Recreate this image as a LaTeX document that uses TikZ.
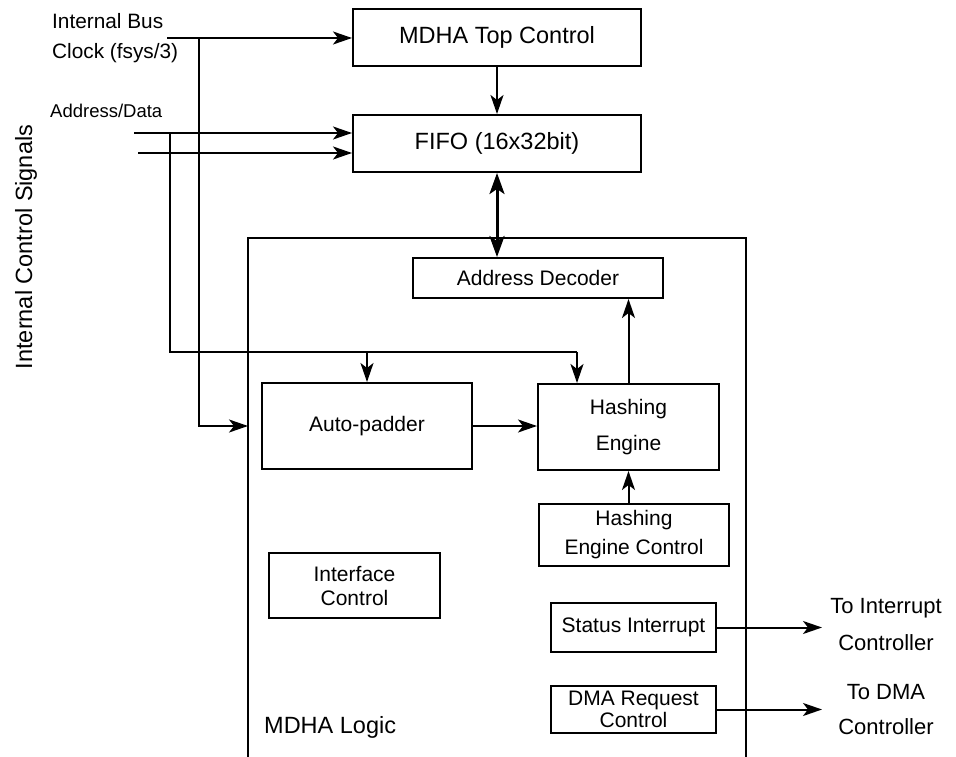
\documentclass[tikz,border=0pt]{standalone}
\usepackage{fontspec}
\setmainfont{Liberation Sans}
\usetikzlibrary{arrows.meta}
\begin{document}
\begin{tikzpicture}[x=1pt,y=-1pt,
  box/.style={draw, line width=2pt, inner sep=0pt, align=center},
  big/.style={font=\fontsize{23.5}{28}\selectfont},
  mid/.style={font=\fontsize{21}{24}\selectfont},
  lbl/.style={inner sep=0pt},
  wire/.style={line width=2pt},
  arr/.style={wire, -{Stealth[length=19pt,width=13pt,inset=5pt]}},
  darr/.style={line width=3pt, {Stealth[length=21pt,width=15pt,inset=5pt]}-{Stealth[length=21pt,width=15pt,inset=5pt]}}]
\useasboundingbox (0,0) rectangle (956,757);

% boxes
\node[box,big,minimum width=288,minimum height=57] (top) at (497,37.5) {MDHA Top Control};
\node[box,big,minimum width=288,minimum height=57] (fifo) at (497,143.5) {FIFO (16x32bit)};
\node[box,mid,minimum width=250,minimum height=40] (dec) at (538,278) {Address Decoder};
\node[box,mid,minimum width=210,minimum height=86] (pad) at (367,426) {Auto-padder};
\node[box,minimum width=181,minimum height=86,font=\fontsize{21}{36}\selectfont] (heng) at (628.5,427) {Hashing\\Engine};
\node[box,minimum width=190,minimum height=62,font=\fontsize{21}{29}\selectfont] (hec) at (634,535) {Hashing\\Engine Control};
\node[box,minimum width=171,minimum height=65,font=\fontsize{21}{24}\selectfont] (ifc) at (354.5,585.5) {Interface\\Control};
\node[box,mid,minimum width=165,minimum height=49] (stat) at (633.5,627.5) {Status Interrupt};
\node[box,minimum width=165,minimum height=47,font=\fontsize{21}{22}\selectfont] (dma) at (633.5,709.5) {DMA Request\\Control};

% MDHA logic block (open at the bottom)
\coordinate (lbl1) at (248,757);
\coordinate (ltl) at (248,238);
\coordinate (ltr) at (746,238);
\coordinate (lbr) at (746,757);
\draw[wire] (lbl1) -- (ltl) -- (ltr) -- (lbr);
\node[lbl,big,anchor=base west] (logic) at (264,733) {MDHA Logic};

% labels
\node[lbl,anchor=base west,font=\fontsize{20.8}{24}\selectfont] (ib1) at (52,29) {Internal Bus};
\node[lbl,anchor=base west,font=\fontsize{20.8}{24}\selectfont] (ib2) at (52,59) {Clock (fsys/3)};
\node[lbl,anchor=base west,font=\fontsize{18.5}{22}\selectfont] (ad) at (50,118) {Address/Data};
\node[lbl,big,anchor=base,rotate=90] (ics) at (32,247) {Internal Control Signals};
\node[lbl,font=\fontsize{22}{26}\selectfont] (ti1) at (886,608) {To Interrupt};
\node[lbl,font=\fontsize{22}{26}\selectfont] (ti2) at (886,643) {Controller};
\node[lbl,font=\fontsize{22}{26}\selectfont] (td1) at (886,692) {To DMA};
\node[lbl,font=\fontsize{22}{26}\selectfont] (td2) at (886,727) {Controller};

% clock
\coordinate (ck) at (167,38);
\coordinate (ckj) at (199,38);
\coordinate (ckl) at (248,426);
\draw[arr] (ck) -- (top.west |- ck);
\draw[arr] (ckj) |- (ckl);

% address / data
\coordinate (a1) at (134,133);
\coordinate (a2) at (138,153);
\coordinate (aj) at (170,133);
\coordinate (ab) at (577,352);
\coordinate (ap) at (367,352);
\draw[arr] (a1) -- (fifo.west |- a1);
\draw[arr] (a2) -- (fifo.west |- a2);
\draw[wire] (aj) |- (ab);
\draw[arr] (ap) -- (pad.north);
\draw[arr] (ab) -- (ab |- heng.north);

% internal connections
\draw[arr] (top.south) -- (fifo.north);
\draw[darr] (fifo.south) -- (fifo.south |- dec.north);
\draw[arr] (heng.north) -- (heng.north |- dec.south);
\draw[arr] (pad.east) -- (pad.east -| heng.west);
\draw[arr] (heng.south |- hec.north) -- (heng.south);

% outputs
\coordinate (o1) at (822,627.5);
\coordinate (o2) at (822,709.5);
\draw[arr] (stat.east) -- (o1);
\draw[arr] (dma.east) -- (o2);
\end{tikzpicture}
\end{document}
